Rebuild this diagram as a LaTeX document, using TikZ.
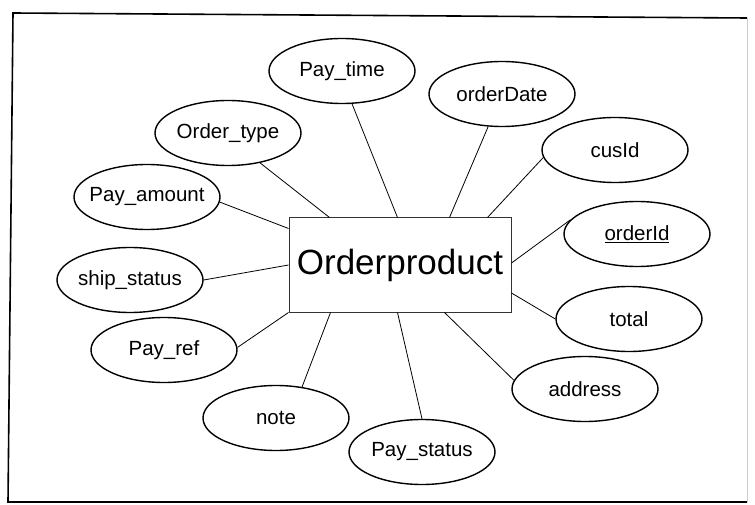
\documentclass[tikz,border=0pt]{standalone}
\usepackage{fontspec}
\setmainfont{Liberation Sans}
\usetikzlibrary{shapes.geometric}
\newcommand\lbl[1]{\makebox[0pt]{#1}}
\begin{document}
\begin{tikzpicture}[x=1pt,y=-1pt,
  attr/.style={ellipse, draw, line width=1.4pt, minimum width=146pt, minimum height=65pt, inner sep=0pt, font=\fontsize{20.5}{24}\selectfont},
  ent/.style={rectangle, draw=black!80, line width=1pt, minimum width=222pt, minimum height=94pt, inner sep=0pt, font=\fontsize{35}{40}\selectfont},
  link/.style={line width=0.8pt},
  frame/.style={line width=1.6pt}]
\useasboundingbox (0,0) rectangle (755,505);
% outer frame
\coordinate (ftl) at (13,13);
\coordinate (ftr) at (747,18);
\coordinate (fbl) at (8,502);
\coordinate (fbr) at (747,502);
\draw[frame] (fbr) -- (fbl) -- (ftl) -- (ftr);
\draw[line width=0.8pt, black!20] (ftr) -- (fbr);
% entity
\node[ent] (op) at (400,265) {Orderproduct};
% attributes
\node[attr] (paytime) at (342,71) {\lbl{Pay\_time}};
\node[attr] (ordertype) at (228,133) {\lbl{Order\_type}};
\node[attr] (payamount) at (147,197) {\lbl{Pay\_amount}};
\node[attr] (shipstatus) at (130,280) {\lbl{ship\_status}};
\node[attr] (payref) at (164,350) {\lbl{Pay\_ref}};
\node[attr] (note) at (276,418) {\lbl{note}};
\node[attr] (paystatus) at (422,452) {\lbl{Pay\_status}};
\node[attr] (address) at (585,389) {\lbl{address}};
\node[attr] (total) at (629,319) {\lbl{total}};
\node[attr] (orderid) at (637,234) {\lbl{\underline{orderId}}};
\node[attr] (cusid) at (615,150) {\lbl{cusId}};
\node[attr] (orderdate) at (502,94) {\lbl{orderDate}};
% connectors
\draw[link] (paytime.-73) -- ([xshift=109pt]op.north west);
\draw[link] (ordertype.-43) -- ([xshift=41pt]op.north west);
\draw[link] (payamount.-4) -- ([yshift=-11pt]op.north west);
\draw[link] (shipstatus.0) -- (op.west);
\draw[link] (payref.2) -- (op.south west);
\draw[link] (note.50) -- ([xshift=42pt]op.south west);
\draw[link] (paystatus.90) -- ([xshift=109pt]op.south west);
\draw[link] (address.173) -- ([xshift=156pt]op.south west);
\draw[link] (total.180) -- ([yshift=-28pt]op.east);
\draw[link] (orderid.168) -- ([yshift=2pt]op.east);
\draw[link] (cusid.186) -- ([xshift=199pt]op.north west);
\draw[link] (orderdate.-113) -- ([xshift=161pt]op.north west);
\end{tikzpicture}
\end{document}
